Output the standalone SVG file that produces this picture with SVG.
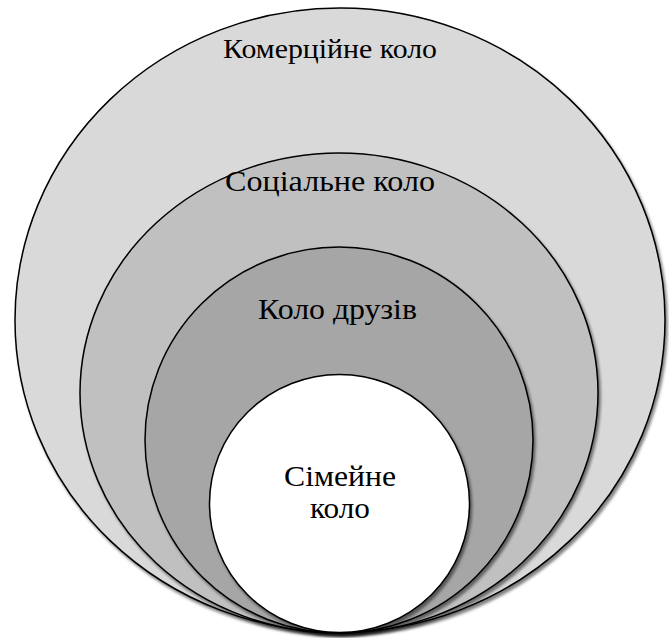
<svg xmlns="http://www.w3.org/2000/svg" width="669" height="638" viewBox="0 0 669 638">
  <defs>
    <!-- soft drop shadow under each ring -->
    <filter id="shadow" x="-5%" y="-5%" width="110%" height="112%">
      <feGaussianBlur in="SourceAlpha" stdDeviation="1.5"/>
      <feOffset dx="2" dy="3"/>
      <feComponentTransfer><feFuncA type="linear" slope="0.5"/></feComponentTransfer>
      <feMerge><feMergeNode/><feMergeNode in="SourceGraphic"/></feMerge>
    </filter>
  </defs>
  <rect width="669" height="638" fill="#fff"/>
  <g id="commercial">
    <ellipse cx="340" cy="320" rx="325" ry="312" fill="#d9d9d9" stroke="#000" stroke-width="1.5" filter="url(#shadow)"/>
    <text x="223" y="58" font-size="27" font-family="Liberation Serif" textLength="214" lengthAdjust="spacingAndGlyphs">Комерційне коло</text>
  </g>
  <g id="social">
    <ellipse cx="339" cy="393" rx="259" ry="240" fill="#c0c0c0" stroke="#000" stroke-width="1.5" filter="url(#shadow)"/>
    <text x="225" y="191" font-size="30" font-family="Liberation Serif" textLength="210" lengthAdjust="spacingAndGlyphs">Соціальне коло</text>
  </g>
  <g id="friends">
    <ellipse cx="339" cy="440" rx="194" ry="193" fill="#a6a6a6" stroke="#000" stroke-width="1.5" filter="url(#shadow)"/>
    <text x="258" y="319" font-size="30" font-family="Liberation Serif" textLength="159" lengthAdjust="spacingAndGlyphs">Коло друзів</text>
  </g>
  <g id="family">
    <ellipse cx="339.5" cy="503.5" rx="130" ry="129" fill="#ffffff" stroke="#000" stroke-width="1.5" filter="url(#shadow)"/>
    <text x="284" y="486" font-size="30" font-family="Liberation Serif" textLength="112" lengthAdjust="spacingAndGlyphs">Сімейне</text>
    <text x="310" y="518" font-size="30" font-family="Liberation Serif" textLength="60" lengthAdjust="spacingAndGlyphs">коло</text>
  </g>
</svg>
